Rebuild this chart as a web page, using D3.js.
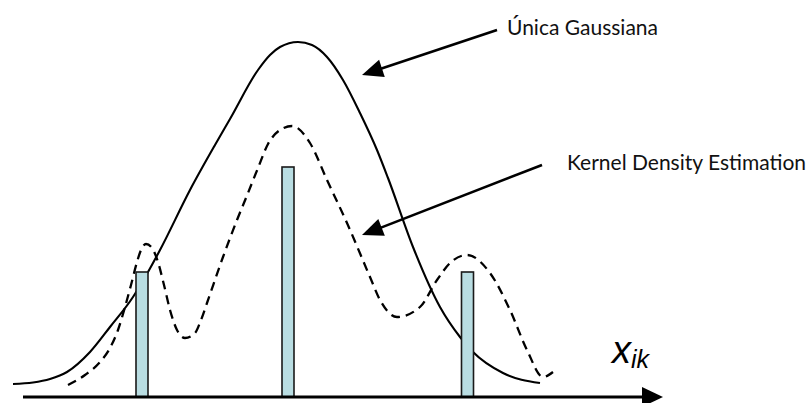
<!DOCTYPE html>
<html>
<head>
<meta charset="utf-8">
<script src="https://cdn.jsdelivr.net/npm/d3@7"></script>
<style>
  body { margin: 0; background: #fff; }
  svg { display: block; }
</style>
</head>
<body>
<script>
var w = 808;
var h = 403;

// sample positions (bars) and their heights
var barX = [12.9, 27.5, 45.45];
var barH = [12.5, 23.0, 12.5];
var barWidth = 1.2;

// single gaussian curve
var gaussX = [0, 2.0, 3.7, 5.4, 7.7, 9.7, 12.0, 13.5, 14.7, 17.7, 20.2, 21.7, 24.5, 25.7, 26.7, 28.5, 29.9, 31.4, 33.0, 34.7, 36.4, 37.5, 40.0, 42.7, 44.7, 46.0, 49.0, 52.7];
var gaussY = [1.3, 1.45, 1.8, 2.5, 4.5, 7.0, 10.0, 12.5, 14.7, 20.7, 25.2, 27.8, 32.7, 34.2, 35.0, 35.5, 35.2, 34.0, 31.7, 28.4, 24.7, 21.9, 15.0, 9.0, 6.0, 4.5, 2.4, 1.4];

// kernel density estimation curve (dashed)
var kdeX = [5.5, 7.2, 8.7, 9.7, 10.5, 11.2, 11.8, 12.4, 12.8, 13.3, 13.9, 14.5, 15.1, 15.7, 16.4, 17.2, 18.2, 18.8, 19.4, 21.0, 22.4, 23.5, 24.5, 25.5, 26.7, 27.9, 29.7, 31.4, 33.4, 35.7, 36.7, 38.4, 40.7, 42.4, 43.7, 45.4, 47.7, 49.7, 51.4, 53.0, 54.0];
var kdeY = [1.2, 2.2, 3.5, 4.9, 6.7, 9.0, 11.2, 13.5, 14.7, 15.3, 14.9, 13.5, 11.2, 8.7, 6.7, 5.9, 6.4, 7.7, 9.4, 14.0, 17.7, 20.4, 22.9, 25.3, 26.7, 27.1, 25.4, 21.7, 17.4, 12.0, 9.7, 8.0, 9.0, 11.7, 13.4, 14.2, 12.4, 8.7, 4.7, 2.0, 2.5];

// annotation labels and arrows
var labels = ["Única Gaussiana", "Kernel Density Estimation"];
var labelX = [49.4, 55.4];
var labelY = [36.2, 22.7];
var arrowFrom = [[48.4, 36.7], [52.9, 23.2]];
var arrowTo = [[34.9, 32.2], [34.9, 16.2]];

// axis extent
var axisStart = 1.0;
var axisEnd = 65.0;

var svg = d3.select("body")
            .append("svg")
            .attr("width", w)
            .attr("height", h);

var xScale = d3.scaleLinear()
               .domain([0, 65])
               .range([13, 663]);

var yScale = d3.scaleLinear()
               .domain([0, 35.5])
               .range([397, 42]);

var line = d3.line()
             .x(function (d) { return xScale(d[0]); })
             .y(function (d) { return yScale(d[1]); })
             .curve(d3.curveMonotoneX);

// gaussian curve
svg.append("path")
   .datum(d3.zip(gaussX, gaussY))
   .attr("d", line)
   .attr("fill", "none")
   .attr("stroke", "#000")
   .attr("stroke-width", 2.1);

// kde curve
svg.append("path")
   .datum(d3.zip(kdeX, kdeY))
   .attr("d", line)
   .attr("fill", "none")
   .attr("stroke", "#000")
   .attr("stroke-width", 2.3)
   .attr("stroke-dasharray", "9,6");

// bars on top of the curves
svg.selectAll("rect.bar")
   .data(barX)
   .enter()
   .append("rect")
   .attr("class", "bar")
   .attr("x", function (d) { return xScale(d - barWidth / 2); })
   .attr("y", function (d, i) { return yScale(barH[i]); })
   .attr("width", xScale(barWidth) - xScale(0))
   .attr("height", function (d, i) { return yScale(0) - yScale(barH[i]); })
   .attr("fill", "#b9dde2")
   .attr("stroke", "#1a1a1a")
   .attr("stroke-width", 1.6);

// x axis with arrow head
var headLen = 21, headHalf = 10;
svg.append("line")
   .attr("x1", xScale(axisStart))
   .attr("x2", xScale(axisEnd) - headLen + 2)
   .attr("y1", yScale(0))
   .attr("y2", yScale(0))
   .attr("stroke", "#000")
   .attr("stroke-width", 2.8);

svg.append("path")
   .attr("d", "M" + xScale(axisEnd) + "," + yScale(0) +
              "L" + (xScale(axisEnd) - headLen) + "," + (yScale(0) - headHalf) +
              "L" + (xScale(axisEnd) - headLen) + "," + (yScale(0) + headHalf) + "Z")
   .attr("fill", "#000");

// axis label x_ik
var xl = svg.append("text")
            .attr("x", xScale(59.9))
            .attr("y", yScale(3.4))
            .attr("font-family", "'Liberation Sans', Arial, sans-serif")
            .attr("font-style", "italic")
            .attr("fill", "#000");
xl.append("tspan").attr("font-size", 38).text("x");
xl.append("tspan").attr("font-size", 25).attr("dy", 5).text("ik");

// annotation arrows
var aLen = 21, aHalf = 9;
arrowFrom.forEach(function (f, i) {
    var x1 = xScale(f[0]), y1 = yScale(f[1]);
    var x2 = xScale(arrowTo[i][0]), y2 = yScale(arrowTo[i][1]);
    var dx = x2 - x1, dy = y2 - y1;
    var len = Math.sqrt(dx * dx + dy * dy);
    var ux = dx / len, uy = dy / len;
    var bx = x2 - ux * aLen, by = y2 - uy * aLen;

    svg.append("line")
       .attr("x1", x1).attr("y1", y1)
       .attr("x2", bx + ux * 2).attr("y2", by + uy * 2)
       .attr("stroke", "#000")
       .attr("stroke-width", 2.6);

    svg.append("path")
       .attr("d", "M" + x2 + "," + y2 +
                  "L" + (bx - uy * aHalf) + "," + (by + ux * aHalf) +
                  "L" + (bx + uy * aHalf) + "," + (by - ux * aHalf) + "Z")
       .attr("fill", "#000");
});

// annotation texts
svg.selectAll("text.lbl")
   .data(labels)
   .enter()
   .append("text")
   .attr("class", "lbl")
   .attr("x", function (d, i) { return xScale(labelX[i]); })
   .attr("y", function (d, i) { return yScale(labelY[i]); })
   .attr("font-family", "Lato, 'Open Sans', sans-serif")
   .attr("font-size", 21)
   .attr("fill", "#111")
   .text(function (d) { return d; });
</script>
</body>
</html>
